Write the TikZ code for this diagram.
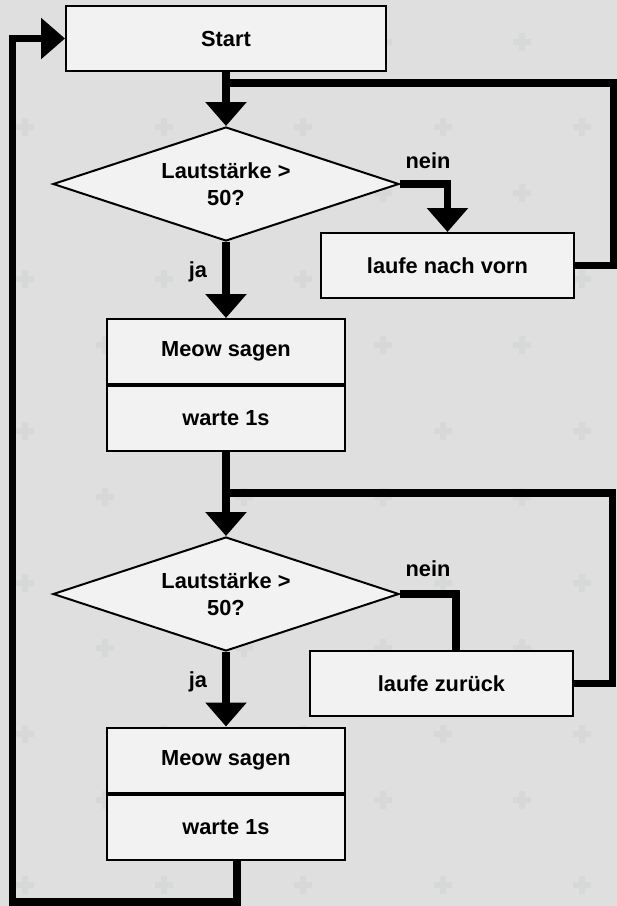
\documentclass[tikz,border=0pt]{standalone}
\usepackage{fontspec}
\setmainfont{Liberation Sans}
\usepackage{tikz}
\usetikzlibrary{arrows.meta, positioning, shapes.geometric}

\definecolor{bgcol}{HTML}{DEDFDE}
\definecolor{boxfill}{HTML}{F2F2F2}
\definecolor{pluscol}{HTML}{D7D9D8}

\begin{document}
\begin{tikzpicture}[
	x=1pt, y=-1pt,
	font=\fontsize{21.8}{27}\selectfont\bfseries,
	stepbox/.style={draw, fill=boxfill, line width=2pt, minimum width=238pt, minimum height=65pt, inner sep=0pt},
	decision/.style={draw, diamond, fill=boxfill, line width=2pt, aspect=3, minimum width=346pt, minimum height=114pt, inner sep=0pt, align=center},
	answer/.style={inner sep=0pt},
	flow/.style={line width=7.5pt},
	flowarrow/.style={flow, -{Triangle[width=40pt, length=24pt]}},
	plusmark/.style={fill=pluscol},
	]
	
	% Background with faint plus marks
	\fill[bgcol] (0,0) rectangle (617,906);
	\useasboundingbox (0,0) rectangle (617,906);
	\foreach \px in {25,164,303,443,582}
		\foreach \py in {127,279,431,583,734,885}
			\fill[plusmark] (\px-9,\py-3) rectangle (\px+9,\py+3) (\px-3,\py-9) rectangle (\px+3,\py+9);
	\foreach \px in {105,244,383,522}
		\foreach \py in {42,193,345,497,648,800}
			\fill[plusmark] (\px-9,\py-3) rectangle (\px+9,\py+3) (\px-3,\py-9) rectangle (\px+3,\py+9);
	
	% First block
	\node[stepbox, minimum width=320pt] (start) at (226,38.5) {Start};
	\node[decision] (dec1) at (226,184) {Lautstärke >\\50?};
	\node[stepbox, minimum width=253pt] (vorn) at (447.5,265.5) {laufe nach vorn};
	\node[answer] (nein1) at (428,161) {nein};
	\node[answer] (ja1) at (198,272) {ja};
	\node[stepbox] (meow1) at (226,351.5) {Meow sagen};
	\node[stepbox] (wait1) [below=0pt of meow1] {warte 1s};
	
	% Second block
	\node[decision] (dec2) at (226,594) {Lautstärke >\\50?};
	\node[stepbox, minimum width=263pt] (back) at (441.5,683.5) {laufe zurück};
	\node[answer] (nein2) at (428,569) {nein};
	\node[answer] (ja2) at (198,682) {ja};
	\node[stepbox] (meow2) at (226,760) {Meow sagen};
	\node[stepbox] (wait2) [below=0pt of meow2] {warte 1s};
	
	\coordinate (join1) at (226,83);
	\coordinate (join2) at (226,493);
	\coordinate (lowleft) at (12.5,902);
	\coordinate (lowout) at ([xshift=11pt]wait2.south);
	
	% Arrows of the first block
	\draw[flowarrow] (start) -- (dec1);
	\draw[flowarrow] (dec1.east) -| (vorn.north);
	\draw[flow] (vorn.east) -- ++(38.5,0) |- (join1);
	\draw[flowarrow] (dec1.south) -- (meow1.north);
	
	% Arrows of the second block
	\draw[flowarrow] (wait1.south) -- (dec2.north);
	\draw[flow] (dec2.east) -| ([xshift=14.5pt]back.north);
	\draw[flow] (back.east) -- ++(38.5,0) |- (join2);
	\draw[flowarrow] (dec2.south) -- (meow2.north);
	
	% Back to start
	\draw[flowarrow] (lowout) |- (lowleft) |- (start.west);
	
\end{tikzpicture}
\end{document}
